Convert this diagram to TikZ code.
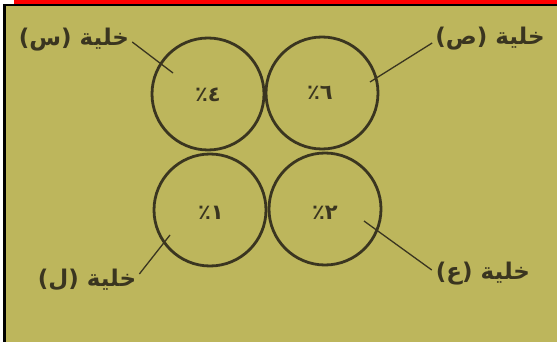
\documentclass[tikz,border=0pt]{standalone}
\usepackage{fontspec}
\TeXXeTstate=1
\newfontfamily\arabicfont[Script=Arabic]{DejaVu Sans}
\newfontfamily\numfont{DejaVu Sans}
\definecolor{bgyellow}{HTML}{BDB65C}
\definecolor{ink}{HTML}{3A3520}
\begin{document}
\begin{tikzpicture}[x=1pt,y=-1pt,
  cell/.style={circle,draw=ink,line width=2.8pt,minimum size=112pt,inner sep=0pt},
  pct/.style={text=ink,font=\numfont\bfseries\fontsize{21}{24}\selectfont},
  lbl/.style={text=ink,font=\arabicfont\bfseries\fontsize{23}{27}\selectfont,inner sep=0pt},
  leader/.style={draw=ink,line width=1.3pt}]
\useasboundingbox (0,0) rectangle (557,342);
\fill[white] (0,0) rectangle (557,342);
\fill[bgyellow] (6,6) rectangle (557,342);
\fill[black] (3,4) rectangle (6,342);
\fill[black] (3,4) rectangle (557,6);
\fill[red] (14,0) rectangle (557,4);
% cells
\node[cell] (s) at (208,94) {};
\node[cell] (p) at (322,93) {};
\node[cell] (l) at (210,210) {};
\node[cell] (a) at (325,209) {};
\node[pct] (ts) at (208,95) {٪٤};
\node[pct] (tp) at (320,93) {٪٦};
\node[pct] (tl) at (211,213) {٪١};
\node[pct] (ta) at (325,213) {٪٢};
% labels
\node[lbl] (ls) at (74,40) {\beginR خلية (س)\endR};
\node[lbl] (lp) at (490,39) {\beginR خلية (ص)\endR};
\node[lbl] (ll) at (87,280) {\beginR خلية (ل)\endR};
\node[lbl] (la) at (483,274) {\beginR خلية (ع)\endR};
% leaders
\coordinate (es) at (173,73);
\coordinate (ep) at (370,82);
\coordinate (el) at (170,235);
\coordinate (ea) at (364,221);
\draw[leader] (ls.east) ++(3,2) -- (es);
\draw[leader] (lp.west) ++(-3,4) -- (ep);
\draw[leader] (ll.east) ++(3,-6) -- (el);
\draw[leader] (la.west) ++(-4,-4) -- (ea);
\end{tikzpicture}
\end{document}
